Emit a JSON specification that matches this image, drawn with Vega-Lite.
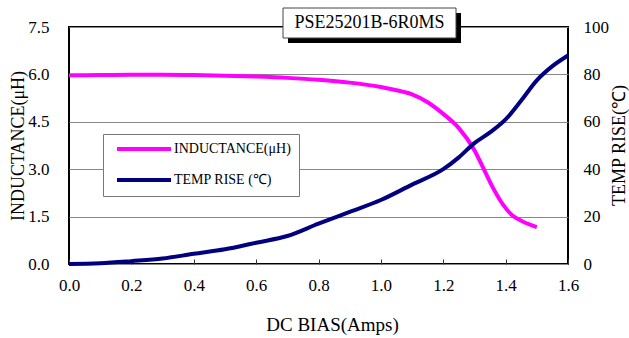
{
  "$schema": "https://vega.github.io/schema/vega-lite/v6.json",
  "width": 499,
  "height": 237,
  "autosize": {"type": "none"},
  "padding": {"left": 69, "top": 27, "right": 61, "bottom": 74},
  "background": "white",
  "config": {
    "font": "Liberation Serif",
    "view": {"stroke": "black", "strokeWidth": 2},
    "axis": {
      "labelFont": "Liberation Serif",
      "titleFont": "Liberation Serif",
      "labelColor": "black",
      "titleColor": "black",
      "titleFontWeight": "normal",
      "labelFontSize": 17,
      "titleFontSize": 18,
      "domain": false
    }
  },
  "datasets": {
    "ind": [
      {"bias": 0.0, "inductance": 5.97, "series": "INDUCTANCE(μH)"},
      {"bias": 0.1, "inductance": 5.98, "series": "INDUCTANCE(μH)"},
      {"bias": 0.2, "inductance": 5.99, "series": "INDUCTANCE(μH)"},
      {"bias": 0.3, "inductance": 5.99, "series": "INDUCTANCE(μH)"},
      {"bias": 0.4, "inductance": 5.98, "series": "INDUCTANCE(μH)"},
      {"bias": 0.5, "inductance": 5.96, "series": "INDUCTANCE(μH)"},
      {"bias": 0.6, "inductance": 5.93, "series": "INDUCTANCE(μH)"},
      {"bias": 0.7, "inductance": 5.89, "series": "INDUCTANCE(μH)"},
      {"bias": 0.8, "inductance": 5.83, "series": "INDUCTANCE(μH)"},
      {"bias": 0.9, "inductance": 5.74, "series": "INDUCTANCE(μH)"},
      {"bias": 1.0, "inductance": 5.6, "series": "INDUCTANCE(μH)"},
      {"bias": 1.05, "inductance": 5.5, "series": "INDUCTANCE(μH)"},
      {"bias": 1.1, "inductance": 5.37, "series": "INDUCTANCE(μH)"},
      {"bias": 1.15, "inductance": 5.12, "series": "INDUCTANCE(μH)"},
      {"bias": 1.2, "inductance": 4.75, "series": "INDUCTANCE(μH)"},
      {"bias": 1.25, "inductance": 4.3, "series": "INDUCTANCE(μH)"},
      {"bias": 1.3, "inductance": 3.6, "series": "INDUCTANCE(μH)"},
      {"bias": 1.33, "inductance": 3.0, "series": "INDUCTANCE(μH)"},
      {"bias": 1.36, "inductance": 2.4, "series": "INDUCTANCE(μH)"},
      {"bias": 1.39, "inductance": 1.9, "series": "INDUCTANCE(μH)"},
      {"bias": 1.42, "inductance": 1.55, "series": "INDUCTANCE(μH)"},
      {"bias": 1.45, "inductance": 1.37, "series": "INDUCTANCE(μH)"},
      {"bias": 1.5, "inductance": 1.17, "series": "INDUCTANCE(μH)"}
    ],
    "temp": [
      {"bias": 0.0, "temp": 0, "series": "TEMP RISE (℃)"},
      {"bias": 0.1, "temp": 0.3, "series": "TEMP RISE (℃)"},
      {"bias": 0.2, "temp": 1.2, "series": "TEMP RISE (℃)"},
      {"bias": 0.3, "temp": 2.3, "series": "TEMP RISE (℃)"},
      {"bias": 0.4, "temp": 4.3, "series": "TEMP RISE (℃)"},
      {"bias": 0.5, "temp": 6.2, "series": "TEMP RISE (℃)"},
      {"bias": 0.6, "temp": 9, "series": "TEMP RISE (℃)"},
      {"bias": 0.7, "temp": 11.8, "series": "TEMP RISE (℃)"},
      {"bias": 0.8, "temp": 17, "series": "TEMP RISE (℃)"},
      {"bias": 0.9, "temp": 22, "series": "TEMP RISE (℃)"},
      {"bias": 1.0, "temp": 27, "series": "TEMP RISE (℃)"},
      {"bias": 1.1, "temp": 33.5, "series": "TEMP RISE (℃)"},
      {"bias": 1.2, "temp": 40, "series": "TEMP RISE (℃)"},
      {"bias": 1.25, "temp": 45, "series": "TEMP RISE (℃)"},
      {"bias": 1.3, "temp": 51, "series": "TEMP RISE (℃)"},
      {"bias": 1.35, "temp": 55.5, "series": "TEMP RISE (℃)"},
      {"bias": 1.4, "temp": 61, "series": "TEMP RISE (℃)"},
      {"bias": 1.45, "temp": 69, "series": "TEMP RISE (℃)"},
      {"bias": 1.5, "temp": 77.5, "series": "TEMP RISE (℃)"},
      {"bias": 1.55, "temp": 83.5, "series": "TEMP RISE (℃)"},
      {"bias": 1.6, "temp": 88, "series": "TEMP RISE (℃)"}
    ]
  },
  "layer": [
    {
      "data": {"name": "ind"},
      "mark": {"type": "line", "interpolate": "monotone", "strokeWidth": 4},
      "encoding": {
        "x": {
          "field": "bias",
          "type": "quantitative",
          "scale": {"domain": [0, 1.6], "nice": false, "zero": false},
          "axis": {
            "title": "DC BIAS(Amps)",
            "titleFontSize": 19,
            "titleX": 263,
            "titleY": 51,
            "titleBaseline": "top",
            "values": [0, 0.1, 0.2, 0.3, 0.4, 0.5, 0.6, 0.7, 0.8, 0.9, 1.0, 1.1, 1.2, 1.3, 1.4, 1.5, 1.6],
            "labelExpr": "round(datum.value*10)%2==0 ? format(datum.value,'.1f') : ''",
            "grid": false,
            "ticks": true,
            "tickColor": "#333333",
            "tickSize": -5,
            "tickWidth": 1,
            "labelPadding": 18,
            "labelFlush": false
          }
        },
        "y": {
          "field": "inductance",
          "type": "quantitative",
          "scale": {"domain": [0, 7.5], "nice": false},
          "axis": {
            "title": "INDUCTANCE(μH)",
            "values": [0, 1.5, 3, 4.5, 6, 7.5],
            "format": ".1f",
            "grid": true,
            "gridColor": "#888888",
            "gridWidth": 1,
            "ticks": false,
            "labelPadding": 20,
            "titlePadding": 0,
            "labelFlush": false
          }
        },
        "color": {
          "field": "series",
          "type": "nominal",
          "scale": {"domain": ["INDUCTANCE(μH)", "TEMP RISE (℃)"], "range": ["#FF00FF", "#000080"]},
          "legend": {
            "title": null,
            "orient": "none",
            "legendX": 34,
            "legendY": 107,
            "strokeColor": "#777777",
            "fillColor": "white",
            "padding": 8,
            "symbolType": "M-0.2,0H10.6",
            "symbolSize": 100,
            "symbolStrokeWidth": 4,
            "symbolOffset": 0,
            "labelFont": "Liberation Serif",
            "labelFontSize": 14,
            "labelColor": "black",
            "labelOffset": 49,
            "labelExpr": "datum.label + '\u00a0\u00a0\u00a0'",
            "rowPadding": 15
          }
        }
      }
    },
    {
      "data": {"name": "temp"},
      "mark": {"type": "line", "interpolate": "monotone", "strokeWidth": 4},
      "encoding": {
        "x": {"field": "bias", "type": "quantitative"},
        "y": {
          "field": "temp",
          "type": "quantitative",
          "scale": {"domain": [0, 100], "nice": false},
          "axis": {
            "orient": "right",
            "title": "TEMP RISE(℃)",
            "titleAngle": -90,
            "titleBaseline": "top",
            "titleAlign": "center",
            "titleX": 42,
            "titleY": 118,
            "values": [0, 20, 40, 60, 80, 100],
            "grid": false,
            "ticks": false,
            "labelPadding": 15,
            "labelFlush": false
          }
        },
        "color": {"field": "series", "type": "nominal"}
      }
    },
    {
      "data": {"values": [{}]},
      "mark": {"type": "rect", "fill": "black"},
      "encoding": {
        "x": {"datum": 0.7022, "type": "quantitative"},
        "x2": {"datum": 1.2569},
        "y": {"datum": 7.943, "type": "quantitative", "scale": {"domain": [0, 7.5], "nice": false}, "axis": null},
        "y2": {"datum": 6.994}
      }
    },
    {
      "data": {"values": [{}]},
      "mark": {"type": "rect", "fill": "white", "stroke": "#444444", "strokeWidth": 1},
      "encoding": {
        "x": {"datum": 0.6862, "type": "quantitative"},
        "x2": {"datum": 1.2409},
        "y": {"datum": 8.101, "type": "quantitative", "scale": {"domain": [0, 7.5], "nice": false}, "axis": null},
        "y2": {"datum": 7.152}
      }
    },
    {
      "data": {"values": [{}]},
      "mark": {"type": "text", "text": "PSE25201B-6R0MS", "font": "Liberation Serif", "fontSize": 18, "color": "black", "align": "center", "baseline": "middle"},
      "encoding": {
        "x": {"datum": 0.9636, "type": "quantitative"},
        "y": {"datum": 7.627, "type": "quantitative", "scale": {"domain": [0, 7.5], "nice": false}, "axis": null}
      }
    }
  ],
  "resolve": {"scale": {"y": "independent"}}
}
